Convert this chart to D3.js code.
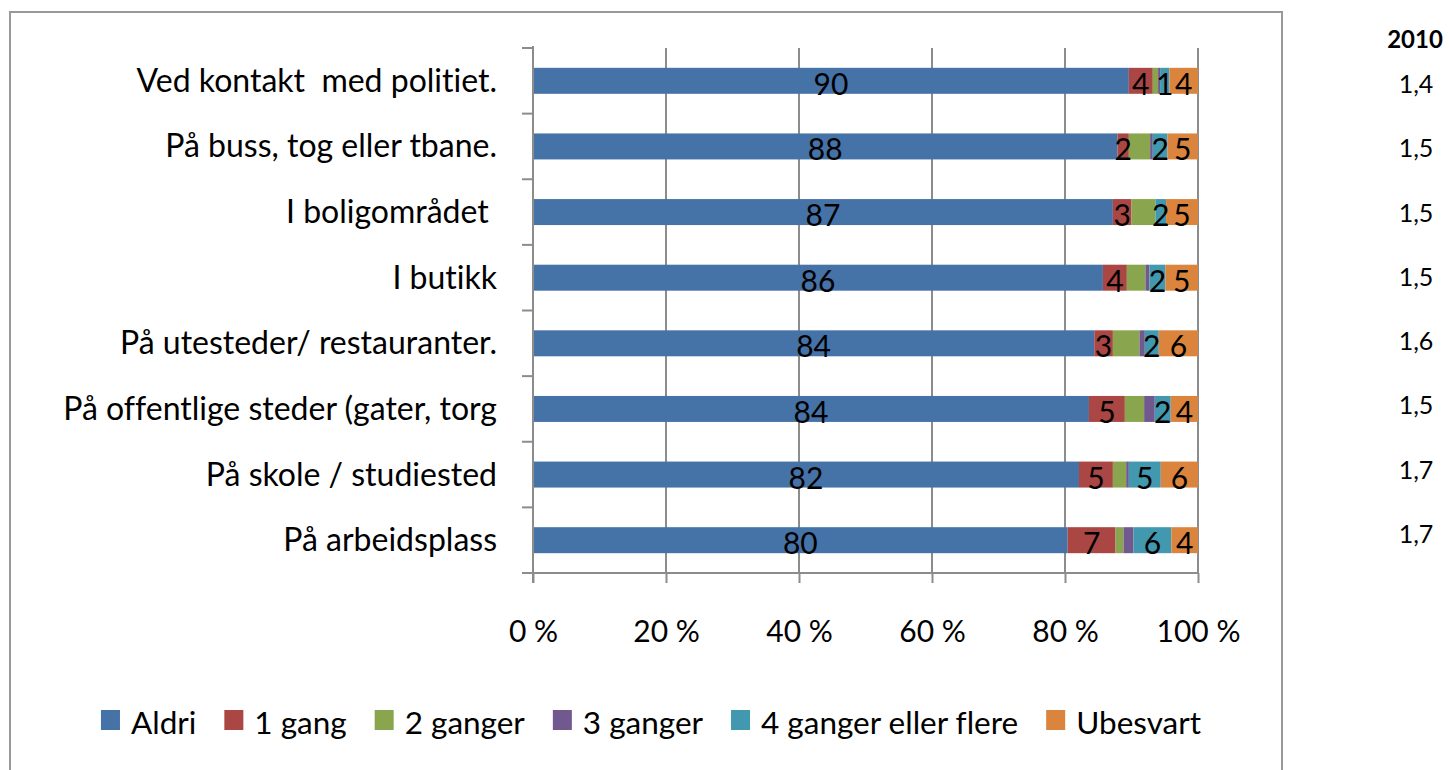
<!DOCTYPE html>
<html>
<head>
<meta charset="utf-8">
<script src="https://cdn.jsdelivr.net/npm/d3@7"></script>
<style>
  html, body { margin: 0; padding: 0; background: #fff; }
  svg { display: block; font-family: Lato, "Open Sans", sans-serif; font-variant-ligatures: none; }
</style>
</head>
<body>
<svg id="chart" width="1450" height="770"></svg>
<script>
// ---- data ----
const categories = [
  "Ved kontakt  med politiet.",
  "På buss, tog eller tbane.",
  "I boligområdet ",
  "I butikk",
  "På utesteder/ restauranter.",
  "På offentlige steder (gater, torg",
  "På skole / studiested",
  "På arbeidsplass"
];
const seriesNames = ["Aldri", "1 gang", "2 ganger", "3 ganger", "4 ganger eller flere", "Ubesvart"];
const aldri    = [89.6, 87.9, 87.2, 85.7, 84.4, 83.6, 82.1, 80.4];
const gang1    = [ 3.6,  1.7,  2.8,  3.6,  2.8,  5.4,  5.1,  7.2];
const ganger2  = [ 0.8,  3.2,  3.6,  2.8,  4.0,  2.9,  2.0,  1.2];
const ganger3  = [ 0.3,  0.4,  0.0,  0.6,  0.8,  1.6,  0.4,  1.5];
const ganger4  = [ 1.4,  2.2,  1.6,  2.4,  2.1,  2.4,  4.8,  5.7];
const ubesvart = [ 4.3,  4.6,  4.8,  4.9,  5.9,  4.1,  5.6,  4.0];
const labelledSeries = ["Aldri", "1 gang", "4 ganger eller flere", "Ubesvart"];
const colors = ["#4572A7", "#AA4643", "#89A54E", "#71588F", "#4198AF", "#DB843D"];
const xTicks = [0, 20, 40, 60, 80, 100];
const sideTitle = "2010";
const sideValues = ["1,4", "1,5", "1,5", "1,5", "1,6", "1,5", "1,7", "1,7"];

// ---- build table ----
const seriesArrays = [aldri, gang1, ganger2, ganger3, ganger4, ubesvart];
const table = categories.map((c, i) => {
  const row = { category: c };
  seriesNames.forEach((s, j) => { row[s] = seriesArrays[j][i]; });
  return row;
});

const svg = d3.select("#chart");

// frame
svg.append("rect")
  .attr("x", 10).attr("y", 12)
  .attr("width", 1272).attr("height", 790)
  .attr("fill", "none").attr("stroke", "#999").attr("stroke-width", 2);

const plot = { left: 533, right: 1198, top: 48, bottom: 573 };

const x = d3.scaleLinear().domain([0, 100]).range([plot.left, plot.right]);
const y = d3.scaleBand().domain(categories).range([plot.top, plot.bottom])
  .paddingInner(0.604).paddingOuter(0.302);
const yBand = d3.scaleBand().domain(categories).range([plot.top, plot.bottom]);

const axisColor = "#8c8c8c";

// vertical gridlines
svg.append("g").selectAll("line").data(xTicks.filter(t => t > 0)).join("line")
  .attr("x1", d => x(d)).attr("x2", d => x(d))
  .attr("y1", plot.top).attr("y2", plot.bottom)
  .attr("stroke", axisColor).attr("stroke-width", 2);

// stacked bars
const stack = d3.stack().keys(seriesNames);
const stacked = stack(table);
const color = d3.scaleOrdinal().domain(seriesNames).range(colors);

const layers = svg.append("g").selectAll("g").data(stacked).join("g")
  .attr("fill", d => color(d.key));
layers.selectAll("rect").data(d => d).join("rect")
  .attr("x", d => x(d[0]))
  .attr("width", d => Math.max(0, x(d[1]) - x(d[0])))
  .attr("y", d => y(d.data.category))
  .attr("height", y.bandwidth());

// value labels
const labelLayers = svg.append("g").selectAll("g")
  .data(stacked.filter(s => labelledSeries.includes(s.key))).join("g");
labelLayers.selectAll("text").data(d => d).join("text")
  .attr("x", d => (x(d[0]) + x(d[1])) / 2)
  .attr("y", d => y(d.data.category) + y.bandwidth() + 1)
  .attr("text-anchor", "middle")
  .attr("font-size", 30)
  .attr("fill", "#000")
  .text(d => d3.format(".0f")(d[1] - d[0]));

// y axis line + ticks
svg.append("line")
  .attr("x1", plot.left).attr("x2", plot.left)
  .attr("y1", plot.top - 2).attr("y2", plot.bottom + 10)
  .attr("stroke", axisColor).attr("stroke-width", 2);
const bounds = categories.map(c => yBand(c)).concat([plot.bottom]);
svg.append("g").selectAll("line").data(bounds).join("line")
  .attr("x1", plot.left - 11).attr("x2", plot.left)
  .attr("y1", d => d).attr("y2", d => d)
  .attr("stroke", axisColor).attr("stroke-width", 2);

// category labels
svg.append("g").selectAll("text").data(categories).join("text")
  .attr("x", 497)
  .attr("y", d => y(d) + y.bandwidth() / 2 + 11)
  .attr("text-anchor", "end")
  .attr("font-size", 32)
  .attr("fill", "#000")
  .style("white-space", "pre")
  .text(d => d);

// x axis
const xAxis = d3.axisBottom(x).tickValues(xTicks).tickSize(10)
  .tickFormat(d => d + " %");
const gx = svg.append("g").attr("transform", `translate(0,${plot.bottom})`).call(xAxis);
gx.select(".domain").attr("stroke", axisColor).attr("stroke-width", 2)
  .attr("d", `M${plot.left - 11},0H${plot.right}`);
gx.selectAll(".tick line").attr("stroke", axisColor).attr("stroke-width", 2);
gx.selectAll(".tick text")
  .attr("font-family", "Lato, sans-serif")
  .attr("font-size", 30).attr("fill", "#000")
  .attr("dy", 0).attr("y", 69);

// side column
svg.append("text")
  .attr("x", 1415).attr("y", 48)
  .attr("text-anchor", "middle")
  .attr("font-size", 24).attr("font-weight", "bold")
  .text(sideTitle);
const ySide = d3.scalePoint().domain(categories).range([93, 543]);
svg.append("g").selectAll("text").data(categories).join("text")
  .attr("x", 1416)
  .attr("y", d => ySide(d))
  .attr("text-anchor", "middle")
  .attr("font-size", 25)
  .text((d, i) => sideValues[i]);

// legend
const legend = svg.append("g");
const items = legend.selectAll("g").data(seriesNames).join("g");
items.append("rect")
  .attr("width", 19).attr("height", 20)
  .attr("fill", d => color(d));
items.append("text")
  .attr("x", 30).attr("y", 24)
  .attr("font-size", 31.5)
  .text(d => d);
let cursor = 0;
const positions = [];
items.each(function() {
  positions.push(cursor);
  const w = d3.select(this).select("text").node().getComputedTextLength();
  cursor += 30 + w + 28;
});
const totalW = cursor - 28;
const startX = 651 - totalW / 2;
items.attr("transform", (d, i) => `translate(${startX + positions[i]},710)`);
</script>
</body>
</html>
